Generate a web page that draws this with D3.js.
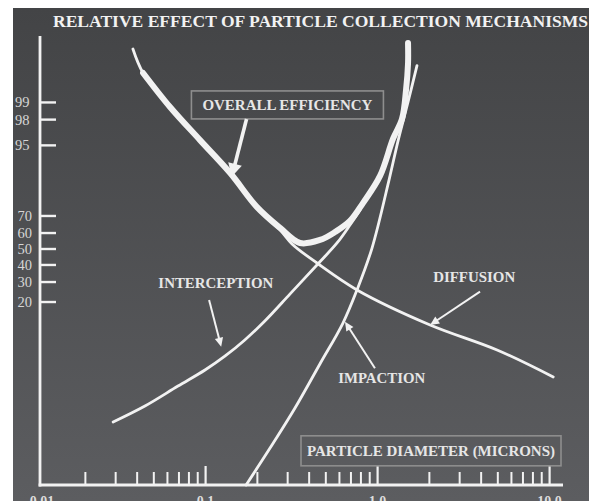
<!DOCTYPE html>
<html>
<head>
<meta charset="utf-8">
<script src="https://cdn.jsdelivr.net/npm/d3@7"></script>
<style>
  body { margin: 0; background: #fff; }
  svg { display: block; }
</style>
</head>
<body>
<div id="chart"></div>
<script>
// particle diameter (microns) and collection efficiency (%)
const overallD = [0.0433, 0.0621, 0.0928, 0.139, 0.199, 0.271, 0.354, 0.462, 0.565, 0.691, 0.822, 1.033, 1.23, 1.386, 1.463, 1.503, 1.503]
const overallE = [99.74, 98.79, 95.8, 88.6, 74.7, 63.1, 53.8, 55.7, 60.6, 67.2, 76.7, 87.7, 96.0, 98.05, 99.42, 99.84, 99.946]
const diffusionD = [0.0378, 0.0433, 0.0621, 0.0928, 0.139, 0.199, 0.271, 0.318, 0.444, 0.759, 2.02, 4.95, 10.5]
const diffusionE = [99.925, 99.74, 98.79, 95.8, 88.6, 74.7, 61.9, 53.2, 41.2, 25.8, 11.4, 5.45, 2.11]
const interceptionD = [0.029, 0.0444, 0.0691, 0.0992, 0.13, 0.169, 0.221, 0.31, 0.444, 0.581, 0.691, 0.79]
const interceptionE = [0.302, 0.635, 1.48, 2.74, 4.48, 7.44, 12.65, 23.8, 40.0, 53.8, 64.8, 73.2]
const impactionD = [0.172, 0.237, 0.331, 0.462, 0.629, 0.759, 0.928, 1.165, 1.315, 1.503, 1.694]
const impactionE = [0.009, 0.079, 0.58, 3.4, 12.0, 25.8, 50.6, 86.3, 95.7, 99.02, 99.82]

const yTicks = [99, 98, 95, 70, 60, 50, 40, 30, 20]
const xMajorTicks = [0.1, 1, 10]
const xMinorTicks = [0.02, 0.03, 0.04, 0.05, 0.06, 0.07, 0.08, 0.09,
  0.2, 0.3, 0.4, 0.5, 0.6, 0.7, 0.8, 0.9,
  2, 3, 4, 5, 6, 7, 8, 9]
const xLabelValues = [0.01, 0.1, 1, 10]
const xLabels = ['0.01', '0.1', '1.0', '10.0']

const title = 'RELATIVE EFFECT OF PARTICLE COLLECTION MECHANISMS'
// [text, [diameter, %] anchor]
const labels = [
  ['INTERCEPTION', [0.1147, 26.6]],
  ['DIFFUSION', [3.645, 30.2]],
  ['IMPACTION', [1.056, 1.65]]
]
const labelLengths = [115, 82, 87]
const arrows = [
  [[0.1048, 20.9], [0.1232, 6.05]],
  [[3.94, 24.9], [2.02, 11.4]],
  [[0.965, 2.91], [0.6465, 12.43]]
]
const overallLabel = 'OVERALL EFFICIENCY'
const overallBoxAt = [0.299, 98.89]
const overallArrow = [[0.173, 98.05], [0.142, 87.45]]
const axisLabel = 'PARTICLE DIAMETER (MICRONS)'
const axisBoxAt = [2.044, 0.0679]

const width = 589
const height = 501
const serif = '"Liberation Serif", "Times New Roman", serif'
const ink = '#f2f2f2'
const frame = { left: 40, right: 563, top: 36, bottom: 485 }

// inverse normal cdf, the y axis is a probability scale
let probit = function (p) {
  const a = [-39.69683028665376, 220.9460984245205, -275.9285104469687, 138.3577518672690, -30.66479806614716, 2.506628277459239]
  const b = [-54.47609879822406, 161.5858368580409, -155.6989798598866, 66.80131188771972, -13.28068155288572]
  const c = [-0.007784894002430293, -0.3223964580411365, -2.400758277161838, -2.549732539343734, 4.374664141464968, 2.938163982698783]
  const d = [0.007784695709041462, 0.3224671290700398, 2.445134137142996, 3.754408661907416]
  const pl = 0.02425
  if (p < pl) {
    let q = Math.sqrt(-2 * Math.log(p))
    return (((((c[0] * q + c[1]) * q + c[2]) * q + c[3]) * q + c[4]) * q + c[5]) / ((((d[0] * q + d[1]) * q + d[2]) * q + d[3]) * q + 1)
  }
  if (p > 1 - pl) {
    let q = Math.sqrt(-2 * Math.log(1 - p))
    return -(((((c[0] * q + c[1]) * q + c[2]) * q + c[3]) * q + c[4]) * q + c[5]) / ((((d[0] * q + d[1]) * q + d[2]) * q + d[3]) * q + 1)
  }
  let q = p - 0.5
  let r = q * q
  return (((((a[0] * r + a[1]) * r + a[2]) * r + a[3]) * r + a[4]) * r + a[5]) * q / (((((b[0] * r + b[1]) * r + b[2]) * r + b[3]) * r + b[4]) * r + 1)
}

const x = d3.scaleLog().domain([0.01, 10]).range([33.6, 549.6])
const zScale = d3.scaleLinear().domain([0, 1]).range([249, 186])
const y = p => zScale(probit(p / 100))

const svg = d3.select('#chart').append('svg')
  .attr('width', width)
  .attr('height', height)

const grad = svg.append('defs').append('linearGradient')
  .attr('id', 'bg')
  .attr('x1', 0).attr('y1', 0).attr('x2', 0).attr('y2', 1)
grad.append('stop').attr('offset', '0%').attr('stop-color', '#434446')
grad.append('stop').attr('offset', '100%').attr('stop-color', '#5c5d60')

svg.append('rect').attr('width', width).attr('height', height).attr('fill', '#fff')
svg.append('rect')
  .attr('x', 13).attr('y', 8)
  .attr('width', width - 13).attr('height', height - 8)
  .attr('fill', 'url(#bg)')

svg.append('text')
  .attr('x', 53).attr('y', 26.5)
  .attr('textLength', 535)
  .attr('lengthAdjust', 'spacingAndGlyphs')
  .style('font-family', serif)
  .style('font-weight', 'bold')
  .style('font-size', '17px')
  .style('fill', ink)
  .text(title)

// axes
let axes = svg.append('g').style('stroke', ink).style('stroke-width', 2.8)
axes.append('line')
  .attr('x1', frame.left).attr('x2', frame.left)
  .attr('y1', frame.top).attr('y2', frame.bottom + 1.4)
axes.append('line')
  .attr('x1', frame.left - 1.4).attr('x2', frame.right)
  .attr('y1', frame.bottom).attr('y2', frame.bottom)

axes.selectAll('.ytick')
  .data(yTicks)
  .enter()
  .append('line')
  .attr('class', 'ytick')
  .style('stroke-width', 2.4)
  .attr('x1', frame.left).attr('x2', frame.left + 16)
  .attr('y1', d => y(d)).attr('y2', d => y(d))

axes.selectAll('.minor')
  .data(xMinorTicks)
  .enter()
  .append('line')
  .attr('class', 'minor')
  .style('stroke-width', 2)
  .attr('x1', d => x(d)).attr('x2', d => x(d))
  .attr('y1', frame.bottom).attr('y2', frame.bottom - 13)

axes.selectAll('.major')
  .data(xMajorTicks)
  .enter()
  .append('line')
  .attr('class', 'major')
  .style('stroke-width', 2.2)
  .attr('x1', d => x(d)).attr('x2', d => x(d))
  .attr('y1', frame.bottom).attr('y2', frame.bottom - 19)

svg.append('g')
  .selectAll('text')
  .data(yTicks)
  .enter()
  .append('text')
  .attr('x', d => d > 90 ? 29.5 : 32)
  .attr('y', d => y(d) + 5)
  .attr('text-anchor', 'end')
  .style('font-family', serif)
  .style('font-size', '14.5px')
  .style('fill', '#d6d6d6')
  .text(d => d)

svg.append('g')
  .selectAll('text')
  .data(xLabelValues)
  .enter()
  .append('text')
  .attr('x', d => Math.max(x(d), frame.left + 2))
  .attr('y', 506)
  .attr('text-anchor', 'middle')
  .style('font-family', serif)
  .style('font-weight', 'bold')
  .style('font-size', '14px')
  .style('fill', '#dcdcdc')
  .text((d, i) => xLabels[i])

// curves
let line = d3.line()
  .x(d => x(d[0]))
  .y(d => y(d[1]))
  .curve(d3.curveCatmullRom.alpha(0.5))

let thin = [
  d3.zip(diffusionD, diffusionE),
  d3.zip(interceptionD, interceptionE),
  d3.zip(impactionD, impactionE)
]
thin.forEach(datum => {
  svg.append('path')
    .datum(datum)
    .style('fill', 'none')
    .style('stroke', ink)
    .style('stroke-width', 2.8)
    .style('stroke-linecap', 'round')
    .attr('d', line)
})

svg.append('path')
  .datum(d3.zip(overallD, overallE))
  .style('fill', 'none')
  .style('stroke', ink)
  .style('stroke-width', 6)
  .style('stroke-linecap', 'round')
  .style('stroke-linejoin', 'round')
  .attr('d', line)

// annotations
let drawArrow = function (from, to, w, len, half) {
  let x1 = x(from[0]), y1 = y(from[1])
  let x2 = x(to[0]), y2 = y(to[1])
  let l = Math.hypot(x2 - x1, y2 - y1)
  let ux = (x2 - x1) / l, uy = (y2 - y1) / l
  let bx = x2 - ux * len, by = y2 - uy * len
  svg.append('line')
    .attr('x1', x1).attr('y1', y1)
    .attr('x2', bx + ux).attr('y2', by + uy)
    .style('stroke', ink)
    .style('stroke-width', w)
  svg.append('path')
    .attr('d', `M${x2},${y2}L${bx - uy * half},${by + ux * half}L${bx + uy * half},${by - ux * half}Z`)
    .style('fill', ink)
}

let labelText = function (txt, px, py, len) {
  return svg.append('text')
    .attr('x', px).attr('y', py)
    .attr('text-anchor', 'middle')
    .attr('textLength', len)
    .attr('lengthAdjust', 'spacingAndGlyphs')
    .style('font-family', serif)
    .style('font-weight', 'bold')
    .style('font-size', '14.5px')
    .style('fill', '#e6e6e6')
    .text(txt)
}

labels.forEach((v, i) => {
  labelText(v[0], x(v[1][0]), y(v[1][1]), labelLengths[i])
})
arrows.forEach(a => drawArrow(a[0], a[1], 2, 9, 4.2))

let box = function (at, w, h) {
  svg.append('rect')
    .attr('x', x(at[0]) - w / 2).attr('y', y(at[1]) - h / 2)
    .attr('width', w).attr('height', h)
    .style('fill', 'none')
    .style('stroke', '#8e8e8e')
    .style('stroke-width', 1.6)
}

box(overallBoxAt, 192, 28)
labelText(overallLabel, x(overallBoxAt[0]), y(overallBoxAt[1]) + 5, 170)
drawArrow(overallArrow[0], overallArrow[1], 3.6, 13, 7)

box(axisBoxAt, 260, 30)
labelText(axisLabel, x(axisBoxAt[0]), y(axisBoxAt[1]) + 5, 248)
</script>
</body>
</html>
